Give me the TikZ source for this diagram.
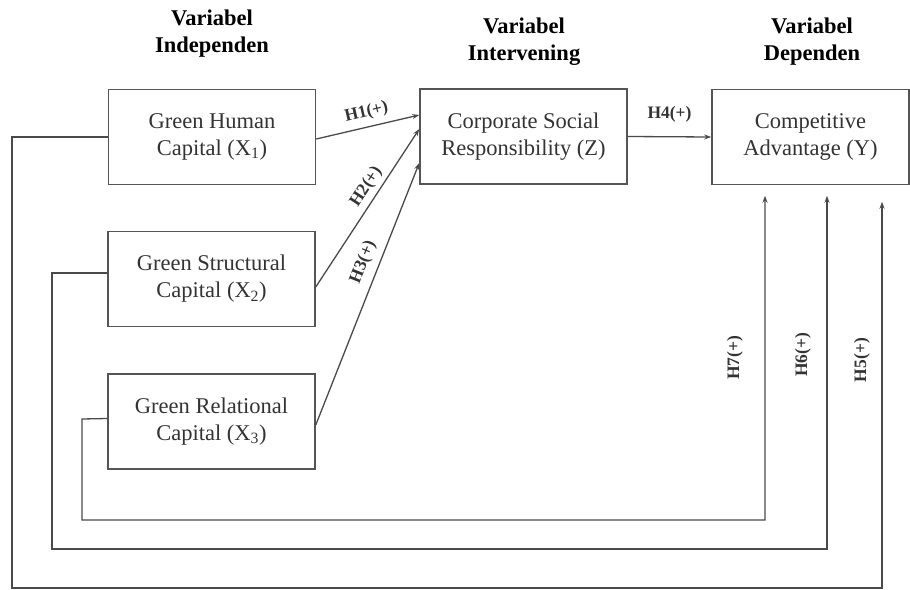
\documentclass[tikz,border=0pt]{standalone}
\usepackage{fontspec}
\setmainfont{Liberation Serif}
\usetikzlibrary{arrows.meta,calc}
\definecolor{boxc}{HTML}{555555}
\definecolor{linec}{HTML}{4A4A4A}
\definecolor{txtc}{HTML}{333333}
\begin{document}
\begin{tikzpicture}[x=1pt,y=-1pt,
 box/.style={draw=boxc, line width=1.5pt, minimum width=207pt, minimum height=95pt, align=center, font=\fontsize{22.5}{27}\selectfont, text=txtc, inner sep=0pt},
 conn/.style={draw=linec, line width=1.3pt, -{Stealth[length=7pt,width=5pt]}},
 hlab/.style={font=\bfseries\fontsize{17.5}{20}\selectfont, text=txtc, inner sep=1pt},
 title/.style={font=\bfseries\fontsize{22.5}{27}\selectfont, align=center, text=black}]
\useasboundingbox (0,0) rectangle (910,589);
% titles
\node[title] (t1) at (212,34) {Variabel\\Independen};
\node[title] (t2) at (524,42) {Variabel\\Intervening};
\node[title] (t3) at (812,42) {Variabel\\Dependen};
% boxes
\node[box] (x1) at (212,137) {Green Human\\Capital (X\textsubscript{1})};
\node[box] (x2) at (211.5,279) {Green Structural\\Capital (X\textsubscript{2})};
\node[box] (x3) at (211.5,421.5) {Green Relational\\Capital (X\textsubscript{3})};
\node[box] (z) at (523.5,136.5) {Corporate Social\\Responsibility (Z)};
\node[box, minimum width=197pt] (y) at (810.5,137) {Competitive\\Advantage (Y)};
% hypotheses to Z
\draw[conn] ($(x1.east)+(0,2)$) -- node[hlab, sloped, above=5pt, pos=0.52]{H1(+)} ($(z.west)+(0,-21.5)$);
\draw[conn] ($(x2.east)+(0,8)$) -- node[hlab, sloped, above=3pt, pos=0.59]{H2(+)} ($(z.west)+(0,-7.5)$);
\draw[conn] ($(x3.east)+(0,3.5)$) -- node[hlab, sloped, above=6pt, pos=0.6]{H3(+)} ($(z.west)+(0,26.5)$);
% Z to Y
\draw[conn] (z.east) -- node[hlab, above=13pt]{H4(+)} (y.west);
% return paths
\coordinate (e7) at ($(y.south)+(-45.5,10.5)$);
\coordinate (e6) at ($(y.south)+(16.5,10.5)$);
\coordinate (e5) at ($(y.south)+(71.5,16.5)$);
\draw[conn] ($(x3.west)+(0,-3)$) -- (82,419) -- (82,520) -- (765,520) -- node[hlab, pos=0.5, xshift=-30pt, rotate=90]{H7(+)} (e7);
\draw[conn] ($(x2.west)+(0,-6)$) -- (52,273) -- (52,549) -- (827,549) -- node[hlab, pos=0.55, xshift=-24pt, rotate=90]{H6(+)} (e6);
\draw[conn] (x1.west) -- (12,137) -- (12,588) -- (882,588) -- node[hlab, pos=0.59, xshift=-20pt, rotate=90]{H5(+)} (e5);
\end{tikzpicture}
\end{document}
